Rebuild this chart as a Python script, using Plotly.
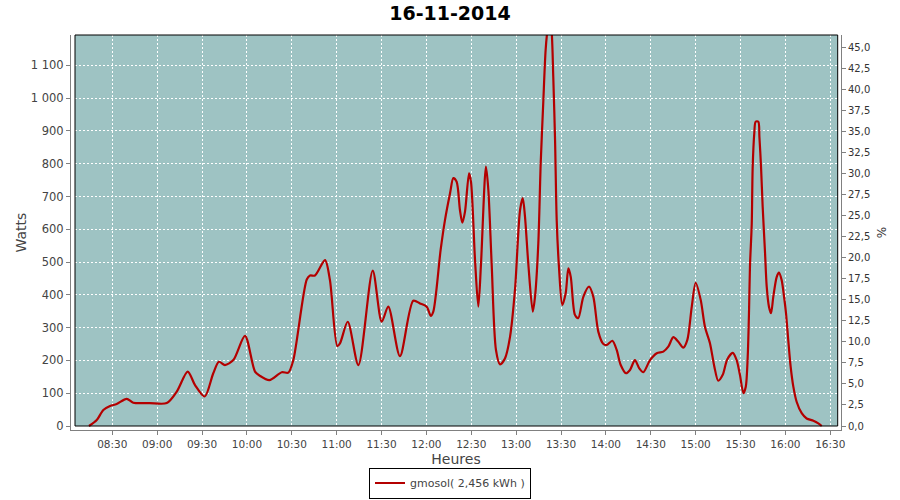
import pandas as pd
import plotly.graph_objects as go

title_text = "16-11-2014"
series_name = "gmosol( 2,456 kWh )"

# minutes after 08:00 and power in watts
minutes = [14.4, 19.6, 24.0, 28.5, 32.9, 39.6, 44.0, 55.0, 66.4, 73.1,
           80.4, 85.3, 91.8, 97.5, 101.3, 105.3, 110.9, 118.7, 125.4, 128.7,
           135.0, 143.3, 147.7, 151.0, 160.0, 162.2, 165.5, 172.2, 175.5, 180.4,
           182.2, 187.4, 194.5, 204.1, 210.1, 214.5, 222.3, 231.2, 235.7, 240.2,
           242.9, 244.6, 249.5, 252.4, 255.8, 258.0, 260.2, 262.4, 264.0, 265.8,
           268.5, 269.8, 272.5, 274.7, 276.5, 279.8, 281.4, 283.6, 286.5, 289.2,
           292.5, 295.9, 299.2, 302.6, 304.4, 305.9, 308.1, 311.1, 312.6, 314.8,
           316.4, 318.1, 319.7, 321.0, 322.3, 323.6, 324.8, 326.0, 327.1, 328.6,
           330.8, 333.1, 334.9, 336.5, 339.3, 341.5, 344.9, 348.7, 351.6, 354.9,
           358.3, 360.5, 364.3, 367.2, 369.9, 373.4, 376.1, 379.4, 382.3, 385.0,
           389.5, 394.0, 398.4, 401.7, 405.1, 408.4, 411.7, 414.4, 417.4, 420.0,
           423.4, 426.2, 429.6, 432.5, 435.1, 438.1, 441.1, 444.8, 447.4, 449.6,
           451.9, 453.5, 454.8, 455.7, 456.3, 457.5, 458.1, 459.2, 460.1, 461.9,
           462.6, 463.7, 464.8, 466.4, 467.5, 469.0, 470.4, 471.9, 474.2, 475.7,
           477.5, 479.1, 480.4, 481.9, 483.5, 485.3, 487.5, 490.9, 494.2, 498.7,
           502.0, 504.3]
watts = [0, 18, 49, 61, 67, 83, 71, 70, 70, 105,
         166, 125, 90, 161, 196, 186, 201, 275, 166, 153,
         140, 164, 163, 201, 447, 459, 459, 506, 445, 244,
         252, 318, 186, 474, 318, 364, 213, 382, 374, 364,
         336, 349, 537, 628, 710, 756, 745, 659, 620, 654,
         771, 745, 506, 364, 496, 791, 720, 496, 232, 188,
         206, 272, 415, 659, 695, 639, 496, 349, 394, 557,
         801, 985, 1147, 1210, 1240, 1210, 1066, 872, 628, 486,
         369, 405, 481, 455, 339, 329, 394, 425, 394, 288,
         250, 247, 260, 232, 186, 161, 171, 201, 176, 164,
         201, 222, 227, 242, 271, 257, 239, 262, 364, 437,
         384, 303, 252, 181, 138, 156, 203, 223, 201, 156,
         100, 120, 211, 354, 486, 618, 786, 893, 928, 928,
         883, 791, 669, 527, 425, 364, 344, 394, 455, 468,
         445, 394, 344, 262, 181, 120, 74, 39, 23, 16,
         8, 0]

base = pd.Timestamp("2014-11-16 08:00:00")
times = base + pd.to_timedelta(minutes, unit="m")

BG = "#9ec3c3"
LINE = "#b40000"
GRAY = "#808080"
FONT = "DejaVu Sans"

fig = go.Figure()
fig.add_trace(go.Scatter(
    x=times, y=watts, mode="lines", name=series_name,
    line=dict(color=LINE, width=2.2, shape="spline", smoothing=0.8),
))

W, H = 900, 500
ml, mr, mt, mb = 71, 59, 35, 70
pw = W - ml - mr
ph = H - mt - mb
gap = 4.0

fig.update_layout(
    template="none",
    width=W, height=H,
    margin=dict(l=ml, r=mr, t=mt, b=mb, pad=0),
    paper_bgcolor="white",
    plot_bgcolor="rgba(0,0,0,0)",
    separators=", ",
    font=dict(family=FONT, color="#444444"),
    title=dict(text="<b>" + title_text + "</b>", x=0.5, xref="container", xanchor="center",
               y=1 - 13.5 / H, yref="container", yanchor="middle",
               font=dict(family=FONT, size=19, color="black")),
    xaxis=dict(
        type="date",
        range=["2014-11-16 08:02:23", "2014-11-16 16:37:10"],
        tick0="2014-11-16 08:00:00", dtick=30 * 60 * 1000, tickformat="%H:%M",
        showgrid=True, gridcolor="white", gridwidth=1, griddash="2px,2px",
        showline=True, linecolor=GRAY, linewidth=1,
        ticks="outside", ticklen=4, tickcolor=GRAY,
        tickfont=dict(family=FONT, size=10.5, color="#444444"),
        title=dict(text="Heures", standoff=6, font=dict(family=FONT, size=14, color="#444444")),
        zeroline=False, automargin=False,
    ),
    yaxis=dict(
        range=[-gap / 0.3278, 1192.8], tick0=0, dtick=100, tickformat=",d",
        showgrid=True, gridcolor="white", gridwidth=1, griddash="2px,2px",
        showline=True, linecolor=GRAY, linewidth=1,
        ticks="outside", ticklen=4, tickcolor=GRAY,
        tickfont=dict(family=FONT, size=11.5, color="#444444"),
        title=dict(text="Watts", standoff=0, font=dict(family=FONT, size=14, color="#444444")),
        zeroline=False, automargin=False,
    ),
    yaxis2=dict(
        overlaying="y", side="right", anchor="x",
        range=[-gap / 8.407, 46.51], tick0=0, dtick=2.5, tickformat=".1f",
        showgrid=False,
        showline=True, linecolor=GRAY, linewidth=1,
        ticks="outside", ticklen=4, tickcolor=GRAY,
        tickfont=dict(family=FONT, size=10, color="#333333"),
        title=dict(text="%", standoff=8, font=dict(family=FONT, size=12, color="#333333")),
        zeroline=False, automargin=False,
    ),
    showlegend=True,
    legend=dict(
        orientation="h", xref="container", yref="container",
        x=0.5, xanchor="center", y=1.5 / H, yanchor="bottom",
        bgcolor="white", bordercolor="black", borderwidth=1,
        font=dict(family=FONT, size=11, color="#444444"),
        itemwidth=30,
    ),
    shapes=[
        dict(type="rect", xref="paper", yref="paper",
             x0=gap / pw, x1=(837.7 - ml) / pw, y0=gap / ph, y1=1,
             fillcolor=BG, line=dict(width=0), layer="below"),
        dict(type="rect", xref="paper", yref="paper",
             x0=gap / pw, x1=(837.7 - ml) / pw, y0=gap / ph, y1=1,
             fillcolor="rgba(0,0,0,0)", line=dict(color="black", width=1), layer="above"),
    ],
)

fig.add_trace(go.Scatter(x=[times[0]], y=[0], yaxis="y2", mode="markers",
                         marker=dict(opacity=0), showlegend=False, hoverinfo="skip"))

fig.write_html(
    "out.html",
    config={"displayModeBar": False},
    post_script="document.body.style.margin='0';document.body.style.overflow='hidden';",
)
